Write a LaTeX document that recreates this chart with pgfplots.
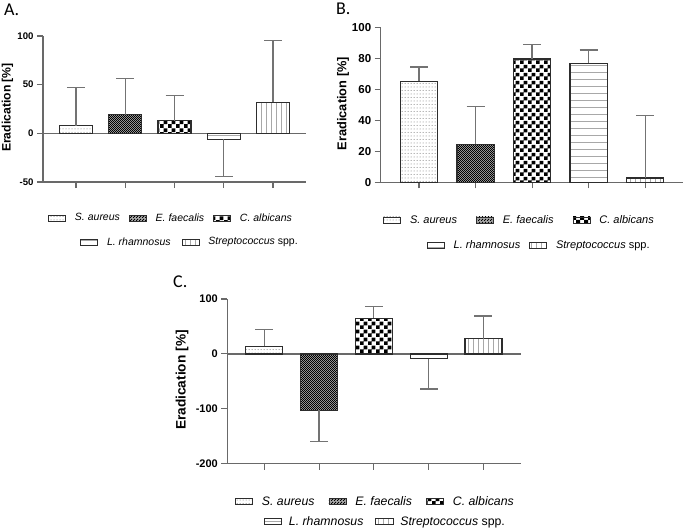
\documentclass[border=0pt]{standalone}
\usepackage{pgfplots}
\pgfplotsset{compat=1.18}
\usepackage{fontspec}
\setmainfont{Liberation Sans}
\newfontfamily\panelfont{Carlito}
\usetikzlibrary{patterns}
\definecolor{axgray}{RGB}{105,105,105}
\definecolor{errgray}{RGB}{115,115,115}
\definecolor{bardraw}{RGB}{45,45,45}

\pgfdeclarepatternformonly{sdots}{\pgfpoint{-1pt}{-1pt}}{\pgfpoint{1pt}{1pt}}{\pgfpoint{3pt}{3.5pt}}{\pgfpathcircle{\pgfpointorigin}{0.5pt}\pgfusepath{fill}}
\pgfdeclarepatternformonly{edots}{\pgfpointorigin}{\pgfpoint{2.4pt}{2.4pt}}{\pgfpoint{2.4pt}{2.4pt}}{\pgfpathrectangle{\pgfpointorigin}{\pgfpoint{1.2pt}{1.2pt}}\pgfpathrectangle{\pgfpoint{1.2pt}{1.2pt}}{\pgfpoint{1.2pt}{1.2pt}}\pgfusepath{fill}}
\pgfdeclarepatternformonly{cheq}{\pgfpointorigin}{\pgfpoint{8pt}{8pt}}{\pgfpoint{8pt}{8pt}}{\pgfpathrectangle{\pgfpointorigin}{\pgfpoint{4pt}{4pt}}\pgfpathrectangle{\pgfpoint{4pt}{4pt}}{\pgfpoint{4pt}{4pt}}\pgfusepath{fill}}
\pgfdeclarepatternformonly{hl}{\pgfpointorigin}{\pgfpoint{1pt}{7pt}}{\pgfpoint{1pt}{7pt}}{\pgfpathrectangle{\pgfpointorigin}{\pgfpoint{1pt}{0.8pt}}\pgfusepath{fill}}
\pgfdeclarepatternformonly{vl}{\pgfpointorigin}{\pgfpoint{4.5pt}{1pt}}{\pgfpoint{4.5pt}{1pt}}{\pgfpathrectangle{\pgfpointorigin}{\pgfpoint{0.8pt}{1pt}}\pgfusepath{fill}}

\pgfplotsset{
  leg/.style={/pgfplots/legend image code/.code={\draw[##1, line width=0.8pt] (0pt,-3pt) rectangle (17pt,3pt);}},
  saur/.style={draw=bardraw, fill=white, postaction={pattern=sdots, pattern color=black!55}},
  efae/.style={draw=bardraw, fill=black!35, postaction={pattern=edots, pattern color=black}},
  calb/.style={draw=bardraw, fill=white, postaction={pattern=cheq, pattern color=black}},
  lrha/.style={draw=bardraw, fill=white, postaction={pattern=hl, pattern color=black!80}},
  strp/.style={draw=bardraw, fill=white, postaction={pattern=vl, pattern color=black!80}},
  eb/.style={error bars/.cd, y dir=#1, y explicit,
    error bar style={errgray, line width=1.2pt},
    error mark options={rotate=90, errgray, line width=1.2pt, mark size=9pt}},
  panel/.style={
    scale only axis, ybar, /pgf/bar shift=0pt,
    axis x line*=bottom, axis y line*=left,
    axis line style={axgray, line width=1.2pt},
    xtick={0,1,2,3,4}, xticklabels={},
    tick align=outside, major tick length=6pt,
    tick style={axgray, line width=1.1pt},
    /pgf/number format/assume math mode=true,
    ylabel={Eradication [\%]},
    every axis plot/.append style={line width=1.2pt},
    legend cell align=left,
    clip=false,
  },
  zeroline/.style={extra y ticks={0}, extra y tick labels={},
    extra y tick style={grid=major, major grid style={axgray, line width=1.2pt}, major tick length=0pt}},
  hidden/.style={scale only axis, hide axis, xmin=0, xmax=1, ymin=0, ymax=1},
}

\begin{document}
\begin{tikzpicture}
\useasboundingbox (0pt,0pt) rectangle (685pt,-528pt);

\node[anchor=base west, inner sep=0pt, font=\panelfont\fontsize{18}{18}\selectfont] at (4pt,-15pt) {A.};
\node[anchor=base west, inner sep=0pt, font=\panelfont\fontsize{18}{18}\selectfont] at (336pt,-14pt) {B.};
\node[anchor=base west, inner sep=0pt, font=\panelfont\fontsize{18}{18}\selectfont] at (173pt,-287pt) {C.};

% ---------------- Panel A ----------------
\begin{axis}[panel, zeroline,
  at={(43pt,-182pt)}, anchor=south west, width=263pt, height=146pt,
  xmin=-0.67, xmax=4.67, ymin=-50, ymax=100, ytick={-50,0,50,100},
  bar width=33pt,
  tick label style={font=\bfseries\fontsize{9.6}{11}\selectfont},
  ylabel style={font=\bfseries\fontsize{12.2}{14}\selectfont, at={(axis description cs:-0.135,0.51)}, anchor=center},
  legend columns=3,
  legend style={draw=none, fill=none, inner sep=0pt, nodes={inner sep=0pt},
    font=\fontsize{10.5}{12}\selectfont,
    at={(axis description cs:0.019,-0.2466)}, anchor=west,
    /tikz/every odd column/.append style={column sep=9pt},
    /tikz/every even column/.append style={column sep=9pt}},
]
\addplot+[saur, leg, eb=plus] coordinates {(0,8) +- (0,39)};
\addlegendentry{\textit{S. aureus}}
\addplot+[efae, leg, eb=plus] coordinates {(1,19) +- (0,37)};
\addlegendentry{\textit{E. faecalis}}
\addplot+[calb, leg, eb=plus] coordinates {(2,13) +- (0,25.5)};
\addlegendentry{\textit{C. albicans}}
\addplot+[lrha, leg, eb=minus] coordinates {(3,-6) +- (0,38)};
\addplot+[strp, leg, eb=plus] coordinates {(4,32) +- (0,63)};
\end{axis}
\begin{axis}[hidden, at={(43pt,-182pt)}, anchor=south west, width=263pt, height=146pt,
  legend columns=2,
  legend style={draw=none, fill=none, inner sep=0pt, nodes={inner sep=0pt},
    font=\fontsize{10.5}{12}\selectfont,
    at={(axis description cs:0.1407,-0.411)}, anchor=west,
    /tikz/every odd column/.append style={column sep=9pt},
    /tikz/every even column/.append style={column sep=11pt}},
  legend cell align=left]
\addlegendimage{leg, lrha, line width=0.8pt}
\addlegendentry{\textit{L. rhamnosus}}
\addlegendimage{leg, strp, line width=0.8pt}
\addlegendentry{\textit{Streptococcus} spp.}
\end{axis}

% ---------------- Panel B ----------------
\begin{axis}[panel,
  at={(380.7pt,-182.3pt)}, anchor=south west, width=302.3pt, height=155pt,
  xmin=-0.678, xmax=4.67, ymin=0, ymax=100, ytick={0,20,40,60,80,100},
  bar width=37.3pt,
  tick label style={font=\bfseries\fontsize{11.5}{13}\selectfont},
  ylabel style={font=\bfseries\fontsize{12.8}{14}\selectfont, at={(axis description cs:-0.1247,0.508)}, anchor=center},
  legend columns=3,
  legend style={draw=none, fill=none, inner sep=0pt, nodes={inner sep=0pt},
    font=\fontsize{11}{13}\selectfont,
    at={(axis description cs:0.0076,-0.243)}, anchor=west,
    /tikz/every odd column/.append style={column sep=9pt},
    /tikz/every even column/.append style={column sep=19pt}},
]
\addplot+[saur, leg, eb=plus] coordinates {(0,65.2) +- (0,9.2)};
\addlegendentry{\textit{S. aureus}}
\addplot+[efae, leg, eb=plus] coordinates {(1,24.5) +- (0,24.3)};
\addlegendentry{\textit{E. faecalis}}
\addplot+[calb, leg, eb=plus] coordinates {(2,79.5) +- (0,9.5)};
\addlegendentry{\textit{C. albicans}}
\addplot+[lrha, leg, eb=plus] coordinates {(3,76.8) +- (0,8.5)};
\addplot+[strp, leg, eb=plus] coordinates {(4,2.8) +- (0,40.4)};
\end{axis}
\begin{axis}[hidden, at={(380.7pt,-182.3pt)}, anchor=south west, width=302.3pt, height=155pt,
  legend columns=2,
  legend style={draw=none, fill=none, inner sep=0pt, nodes={inner sep=0pt},
    font=\fontsize{11}{13}\selectfont,
    at={(axis description cs:0.152,-0.4045)}, anchor=west,
    /tikz/every odd column/.append style={column sep=9pt},
    /tikz/every even column/.append style={column sep=9pt}},
  legend cell align=left]
\addlegendimage{leg, lrha, line width=0.8pt}
\addlegendentry{\textit{L. rhamnosus}}
\addlegendimage{leg, strp, line width=0.8pt}
\addlegendentry{\textit{Streptococcus} spp.}
\end{axis}

% ---------------- Panel C ----------------
\begin{axis}[panel, zeroline,
  at={(227.3pt,-463.7pt)}, anchor=south west, width=293.4pt, height=164.7pt,
  xmin=-0.675, xmax=4.68, ymin=-200, ymax=100, ytick={-200,-100,0,100},
  bar width=37pt,
  tick label style={font=\bfseries\fontsize{11}{13}\selectfont},
  ylabel style={font=\bfseries\fontsize{13.7}{15}\selectfont, at={(axis description cs:-0.1544,0.508)}, anchor=center},
  legend columns=3,
  legend style={draw=none, fill=none, inner sep=0pt, nodes={inner sep=0pt},
    font=\fontsize{12.3}{14}\selectfont,
    at={(axis description cs:0.026,-0.2307)}, anchor=west,
    /tikz/every odd column/.append style={column sep=9pt},
    /tikz/every even column/.append style={column sep=14pt}},
]
\addplot+[saur, leg, eb=plus] coordinates {(0,14) +- (0,31)};
\addlegendentry{\textit{S. aureus}}
\addplot+[efae, leg, eb=minus] coordinates {(1,-102.4) +- (0,56.6)};
\addlegendentry{\textit{E. faecalis}}
\addplot+[calb, leg, eb=plus] coordinates {(2,65) +- (0,21.7)};
\addlegendentry{\textit{C. albicans}}
\addplot+[lrha, leg, eb=minus] coordinates {(3,-9) +- (0,55)};
\addplot+[strp, leg, eb=plus] coordinates {(4,28) +- (0,41)};
\end{axis}
\begin{axis}[hidden, at={(227.3pt,-463.7pt)}, anchor=south west, width=293.4pt, height=164.7pt,
  legend columns=2,
  legend style={draw=none, fill=none, inner sep=0pt, nodes={inner sep=0pt},
    font=\fontsize{12.3}{14}\selectfont,
    at={(axis description cs:0.125,-0.352)}, anchor=west,
    /tikz/every odd column/.append style={column sep=7pt},
    /tikz/every even column/.append style={column sep=12pt}},
  legend cell align=left]
\addlegendimage{leg, lrha, line width=0.8pt}
\addlegendentry{\textit{L. rhamnosus}}
\addlegendimage{leg, strp, line width=0.8pt}
\addlegendentry{\textit{Streptococcus} spp.}
\end{axis}
\end{tikzpicture}
\end{document}
